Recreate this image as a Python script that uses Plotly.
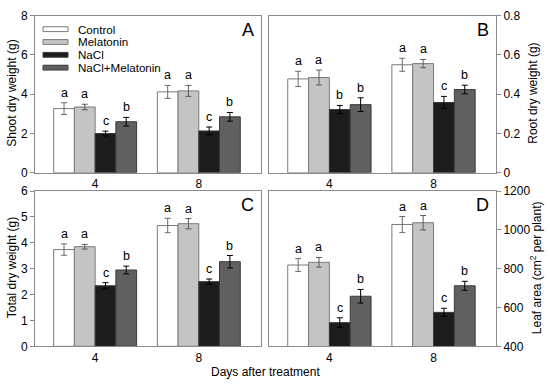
import plotly.graph_objects as go

W, H = 550, 388

days = ["4", "8"]
treatments = ["Control", "Melatonin", "NaCl", "NaCl+Melatonin"]

# means / errors per treatment (rows) for day 4, day 8
shoot_mean = [[3.27, 4.12], [3.35, 4.17], [2.00, 2.13], [2.60, 2.85]]
shoot_err = [[0.30, 0.33], [0.14, 0.28], [0.12, 0.20], [0.22, 0.22]]
shoot_let = [["a", "a"], ["a", "a"], ["c", "c"], ["b", "b"]]

root_mean = [[0.478, 0.550], [0.485, 0.556], [0.322, 0.358], [0.347, 0.424]]
root_err = [[0.039, 0.033], [0.038, 0.021], [0.021, 0.031], [0.035, 0.022]]
root_let = [["a", "a"], ["a", "a"], ["b", "c"], ["b", "b"]]

total_mean = [[3.74, 4.67], [3.85, 4.74], [2.34, 2.50], [2.95, 3.27]]
total_err = [[0.22, 0.28], [0.09, 0.20], [0.12, 0.10], [0.15, 0.24]]
total_let = [["a", "a"], ["a", "a"], ["c", "c"], ["b", "b"]]

leaf_mean = [[819, 1028], [833, 1037], [522, 575], [658, 712]]
leaf_err = [[33, 41], [25, 37], [25, 21], [35, 23]]
leaf_let = [["a", "a"], ["a", "a"], ["c", "c"], ["b", "b"]]

fills = ["#ffffff", "#c4c4c4", "#1c1c1c", "#606060"]
outlines = ["#7a7a7a", "#7a7a7a", "#3a3a3a", "#3a3a3a"]
errcols = ["#6a6a6a", "#5a5a5a", "#000000", "#000000"]

FONT = "Liberation Sans, Arial, sans-serif"
BW = 0.2

panels = [
    dict(mean=shoot_mean, err=shoot_err, let=shoot_let, xa="x", ya="y", label="A"),
    dict(mean=root_mean, err=root_err, let=root_let, xa="x2", ya="y2", label="B"),
    dict(mean=total_mean, err=total_err, let=total_let, xa="x3", ya="y3", label="C"),
    dict(mean=leaf_mean, err=leaf_err, let=leaf_let, xa="x4", ya="y4", label="D"),
]

fig = go.Figure()
annotations = []
for p in panels:
    for k in range(4):
        xs = [i + (k - 1.5) * BW for i in range(len(days))]
        fig.add_trace(go.Bar(
            x=xs, y=p["mean"][k], width=BW,
            marker=dict(color=fills[k], line=dict(color=outlines[k], width=1)),
            error_y=dict(type="data", array=p["err"][k], color=errcols[k],
                         thickness=1, width=3),
            xaxis=p["xa"], yaxis=p["ya"], showlegend=False, name=treatments[k],
        ))
        for i in range(len(days)):
            annotations.append(dict(
                x=xs[i], y=p["mean"][k][i] + p["err"][k][i],
                xref=p["xa"], yref=p["ya"], text=p["let"][k][i],
                showarrow=False, yanchor="bottom", yshift=1,
                font=dict(family=FONT, size=12.5, color="#000"),
            ))

def px_x(v):
    return v / W

def px_y(v):
    return 1 - v / H

xdomL = [px_x(35), px_x(261)]
xdomR = [px_x(269), px_x(496)]
ydomT = [px_y(172), px_y(9)]
ydomB = [px_y(352), px_y(191)]

axis_common = dict(showline=True, linecolor="#8a8a8a", linewidth=1, mirror=True,
                   showgrid=False, zeroline=False,
                   tickfont=dict(family=FONT, size=12, color="#000"))
xcommon = dict(axis_common, tickvals=[0, 1], ticktext=days, range=[-0.58, 1.6], ticks="")
ycommon = dict(axis_common, ticks="outside", ticklen=4, tickcolor="#8a8a8a", tickwidth=1)

layout = dict(
    width=W, height=H, margin=dict(l=0, r=0, t=0, b=0),
    paper_bgcolor="white", plot_bgcolor="white", barmode="overlay",
    xaxis=dict(xcommon, domain=xdomL, anchor="y"),
    xaxis2=dict(xcommon, domain=xdomR, anchor="y2"),
    xaxis3=dict(xcommon, domain=xdomL, anchor="y3"),
    xaxis4=dict(xcommon, domain=xdomR, anchor="y4"),
    yaxis=dict(ycommon, domain=ydomT, anchor="x", range=[0, 8], dtick=2),
    yaxis2=dict(ycommon, domain=ydomT, anchor="x2", side="right", range=[0, 0.8],
                tickvals=[0, 0.2, 0.4, 0.6, 0.8], ticktext=["0", "0.2", "0.4", "0.6", "0.8"]),
    yaxis3=dict(ycommon, domain=ydomB, anchor="x3", range=[0, 6], dtick=1),
    yaxis4=dict(ycommon, domain=ydomB, anchor="x4", side="right", range=[400, 1200], dtick=200),
    font=dict(family=FONT, color="#000"),
)

# panel letters
for lab, x, y in [("A", 256, 24), ("B", 491, 24), ("C", 256, 205), ("D", 491, 205)]:
    annotations.append(dict(x=px_x(x), y=px_y(y), xref="paper", yref="paper", text=lab,
                            showarrow=False, xanchor="right", yanchor="middle",
                            font=dict(family=FONT, size=18, color="#000")))

# axis titles
for txt, x, y in [("Shoot dry weight (g)", 12, 90), ("Total dry weight (g)", 12, 271),
                  ("Root dry weight (g)", 533, 90),
                  ("Leaf area (cm<sup>2</sup> per plant)", 536, 271)]:
    annotations.append(dict(x=px_x(x), y=px_y(y), xref="paper", yref="paper", text=txt,
                            showarrow=False, textangle=-90, xanchor="center", yanchor="middle",
                            font=dict(family=FONT, size=12, color="#000")))
annotations.append(dict(x=px_x(265), y=px_y(379), xref="paper", yref="paper",
                        text="Days after treatment", showarrow=False,
                        xanchor="center", yanchor="middle",
                        font=dict(family=FONT, size=12, color="#000")))

# legend (manual)
shapes = []
for k, name in enumerate(treatments):
    yc = 23 + k * 13.3
    shapes.append(dict(type="rect", xref="paper", yref="paper",
                       x0=px_x(43), x1=px_x(68), y0=px_y(yc + 2.5), y1=px_y(yc - 2.5),
                       fillcolor=fills[k], line=dict(color=outlines[k], width=1)))
    annotations.append(dict(x=px_x(76), y=px_y(yc), xref="paper", yref="paper", text=name,
                            showarrow=False, xanchor="left", yanchor="middle",
                            font=dict(family=FONT, size=11.6, color="#000")))

layout["annotations"] = annotations
layout["shapes"] = shapes
fig.update_layout(**layout)
fig.write_html("out.html", config={"displayModeBar": False},
               post_script="document.body.style.margin='0';document.body.style.overflow='hidden';")
